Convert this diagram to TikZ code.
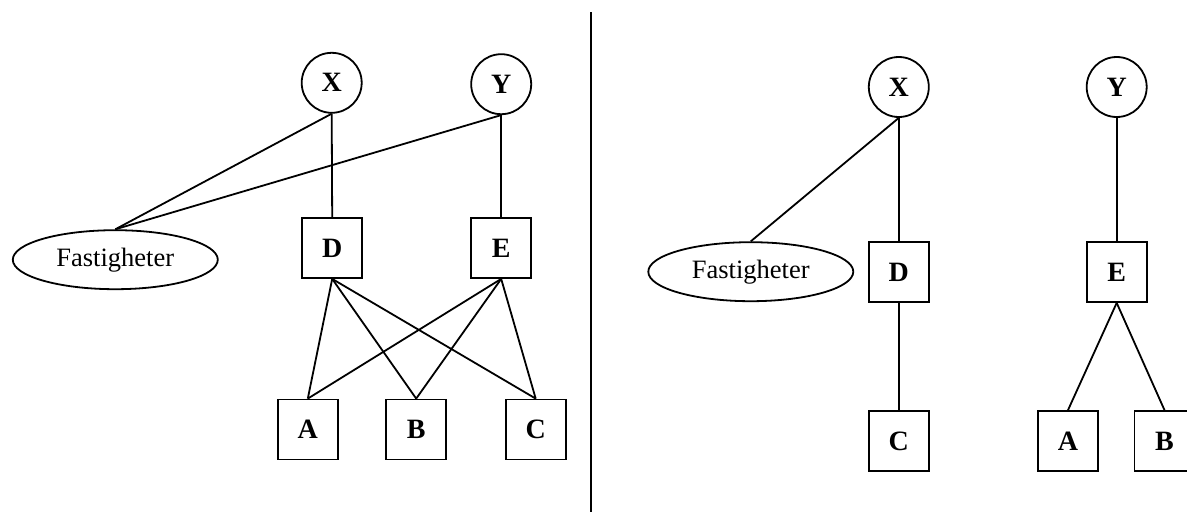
\documentclass[tikz,border=0pt]{standalone}
\usepackage{fontspec}
\setmainfont{Liberation Serif}
\usetikzlibrary{shapes.geometric}

\begin{document}
\begin{tikzpicture}[x=1pt,y=-1pt,
  line width=1.8pt,
  every node/.style={font=\fontsize{26.5}{30}\selectfont},
  entity/.style={circle,draw,minimum size=60pt,inner sep=0pt,font=\fontsize{28}{32}\selectfont\bfseries},
  box/.style={rectangle,draw,minimum width=60pt,minimum height=60pt,inner sep=0pt,font=\fontsize{28}{32}\selectfont\bfseries},
  prop/.style={ellipse,draw,minimum width=205pt,minimum height=59pt,inner sep=0pt},
  link/.style={draw}]
\useasboundingbox (0,0) rectangle (1187,512);
\clip (0,0) rectangle (1187,512);

% left half: shared structure
\node[entity] (lx) at (331.7,82.8) {X};
\node[entity] (ly) at (501.2,84.2) {Y};
\node[prop]   (lf) at (115.3,259.7) {Fastigheter};
\node[box] (ld) at (332.2,248) {D};
\node[box] (le) at (501.2,248) {E};
\node[box] (la) at (307.8,429.5) {A};
\node[box] (lb) at (416.2,429.5) {B};
\node[box] (lc) at (535.7,429.5) {C};

\draw[link] (lx.south) -- (lf.north);
\draw[link] (ly.south) -- (lf.north);
\draw[link] (lx.south) -- (ld.north);
\draw[link] (ly.south) -- (le.north);
\foreach \t in {la,lb,lc} {
  \draw[link] (ld.south) -- (\t.north);
  \draw[link] (le.south) -- (\t.north);
}

% divider
\coordinate (divtop) at (591,12);
\coordinate (divbot) at (591,512);
\draw[line width=2.2pt] (divtop) -- (divbot);

% right half: separated trees
\node[entity] (rx) at (898.8,87) {X};
\node[entity] (ry) at (1116.7,87) {Y};
\node[prop]   (rf) at (750.8,271.7) {Fastigheter};
\node[box] (rd) at (898.8,272) {D};
\node[box] (re) at (1116.7,272) {E};
\node[box] (rc) at (898.8,441) {C};
\node[box] (ra) at (1068,441) {A};
\node[box] (rb) at (1164.5,441) {B};

\draw[link] (rx.south) -- (rf.north);
\draw[link] (rx.south) -- (rd.north);
\draw[link] (rd.south) -- (rc.north);
\draw[link] (ry.south) -- (re.north);
\draw[link] (re.south) -- (ra.north);
\draw[link] (re.south) -- (rb.north);
\end{tikzpicture}
\end{document}
